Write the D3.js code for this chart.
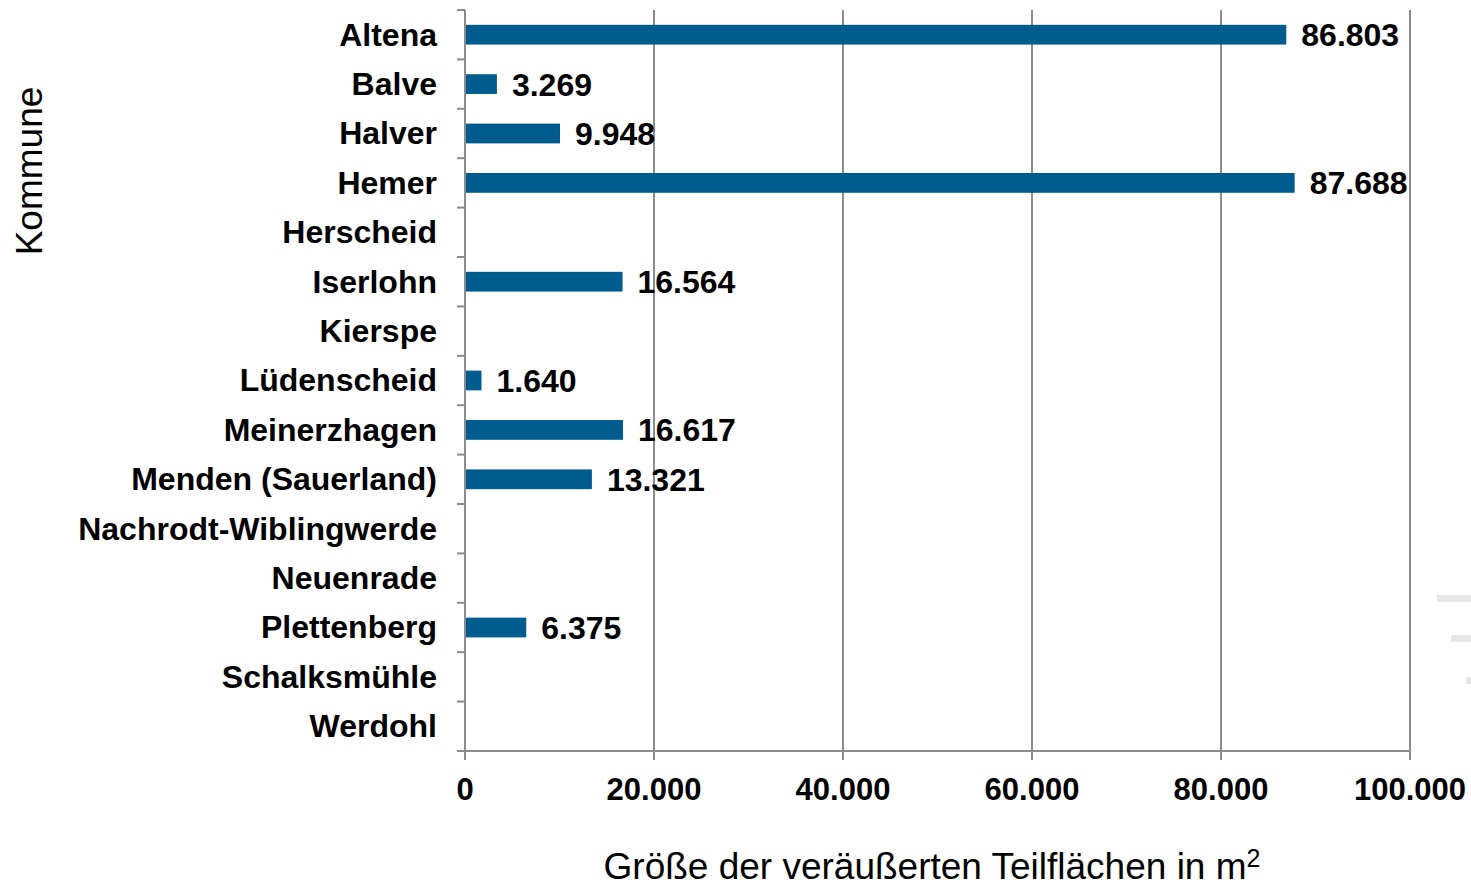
<!DOCTYPE html>
<html>
<head>
<meta charset="utf-8">
<script src="https://cdn.jsdelivr.net/npm/d3@7"></script>
<style>
  body { margin: 0; background: #fff; }
  text { font-family: Arial, "Liberation Sans", sans-serif; }
</style>
</head>
<body>
<div id="chart"></div>
<script>
var kommunen = ["Altena", "Balve", "Halver", "Hemer", "Herscheid", "Iserlohn", "Kierspe",
                "Lüdenscheid", "Meinerzhagen", "Menden (Sauerland)", "Nachrodt-Wiblingwerde",
                "Neuenrade", "Plettenberg", "Schalksmühle", "Werdohl"];
var flaechen = [86803, 3269, 9948, 87688, null, 16564, null, 1640, 16617, 13321, null, null, 6375, null, null];
var xTicks = [0, 20000, 40000, 60000, 80000, 100000];

var width = 1471,
    height = 887,
    plotLeft = 465, plotRight = 1410,
    plotTop = 10, plotBottom = 751,
    barColor = "#005b8e",
    gridColor = "#8c8c8c";

var de = d3.formatLocale({decimal: ",", thousands: ".", grouping: [3], currency: ["", " €"]});
var fmt = de.format(",d");

var data = kommunen.map((k, i) => ({name: k, value: flaechen[i]}));

var svg = d3.select("#chart")
            .append("svg")
            .attr("width", width)
            .attr("height", height);

var x = d3.scaleLinear().domain([0, 100000]).range([plotLeft, plotRight]);
var y = d3.scaleBand().domain(kommunen).range([plotTop, plotBottom]).paddingInner(0.6).paddingOuter(0.3);
var yb = d3.scaleBand().domain(kommunen).range([plotTop, plotBottom]);

// vertical gridlines
svg.append("g")
   .selectAll("line")
   .data(xTicks.slice(1))
   .enter()
   .append("line")
   .attr("x1", d => x(d)).attr("x2", d => x(d))
   .attr("y1", plotTop).attr("y2", plotBottom)
   .style("stroke", gridColor)
   .style("stroke-width", 2);

// bars
svg.append("g")
   .selectAll("rect")
   .data(data.filter(d => d.value !== null))
   .enter()
   .append("rect")
   .attr("x", x(0) + 1)
   .attr("y", d => y(d.name))
   .attr("width", d => x(d.value) - x(0))
   .attr("height", y.bandwidth())
   .style("fill", barColor);

// value labels
svg.append("g")
   .selectAll("text")
   .data(data.filter(d => d.value !== null))
   .enter()
   .append("text")
   .attr("x", d => x(d.value) + 16)
   .attr("y", d => yb(d.name) + yb.bandwidth() / 2)
   .attr("dy", "0.36em")
   .style("font-size", "32px")
   .style("font-weight", "bold")
   .style("fill", "#000")
   .text(d => fmt(d.value));

// y axis line and ticks at band boundaries
var yAxis = svg.append("g");
yAxis.append("line")
     .attr("x1", plotLeft).attr("x2", plotLeft)
     .attr("y1", plotTop).attr("y2", plotBottom + 9)
     .style("stroke", gridColor)
     .style("stroke-width", 2);
yAxis.selectAll(".ytick")
     .data(kommunen)
     .enter()
     .append("line")
     .attr("class", "ytick")
     .attr("x1", plotLeft - 8).attr("x2", plotLeft)
     .attr("y1", d => yb(d)).attr("y2", d => yb(d))
     .style("stroke", gridColor)
     .style("stroke-width", 2);
yAxis.selectAll(".ylab")
     .data(kommunen)
     .enter()
     .append("text")
     .attr("class", "ylab")
     .attr("x", plotLeft - 28)
     .attr("y", d => yb(d) + yb.bandwidth() / 2)
     .attr("dy", "0.34em")
     .style("text-anchor", "end")
     .style("font-size", "32px")
     .style("font-weight", "bold")
     .text(d => d);

// x axis
var xAxis = svg.append("g");
xAxis.append("line")
     .attr("x1", plotLeft - 8).attr("x2", plotRight)
     .attr("y1", plotBottom).attr("y2", plotBottom)
     .style("stroke", gridColor)
     .style("stroke-width", 2);
xAxis.selectAll(".xtick")
     .data(xTicks)
     .enter()
     .append("line")
     .attr("class", "xtick")
     .attr("x1", d => x(d)).attr("x2", d => x(d))
     .attr("y1", plotBottom).attr("y2", plotBottom + 9)
     .style("stroke", gridColor)
     .style("stroke-width", 2);
xAxis.selectAll(".xlab")
     .data(xTicks)
     .enter()
     .append("text")
     .attr("class", "xlab")
     .attr("x", d => x(d))
     .attr("y", 800)
     .style("text-anchor", "middle")
     .style("font-size", "31px")
     .style("font-weight", "bold")
     .text(d => fmt(d));

// axis titles
var xt = svg.append("text")
            .attr("x", 932)
            .attr("y", 879)
            .style("text-anchor", "middle")
            .style("font-size", "37px")
            .text("Größe der veräußerten Teilflächen in m");
xt.append("tspan")
  .attr("dy", "-12")
  .style("font-size", "25px")
  .text("2");

svg.append("text")
   .attr("transform", "translate(42,171) rotate(-90)")
   .style("text-anchor", "middle")
   .style("font-size", "37px")
   .text("Kommune");

// cut-off legend fragments at the right edge
var frags = [[1437, 595, 34], [1451, 635, 20], [1466, 677, 5]];
svg.append("g")
   .selectAll("rect")
   .data(frags)
   .enter()
   .append("rect")
   .attr("x", d => d[0]).attr("y", d => d[1])
   .attr("width", d => d[2]).attr("height", 7)
   .style("fill", "#e6e6e6");
</script>
</body>
</html>
